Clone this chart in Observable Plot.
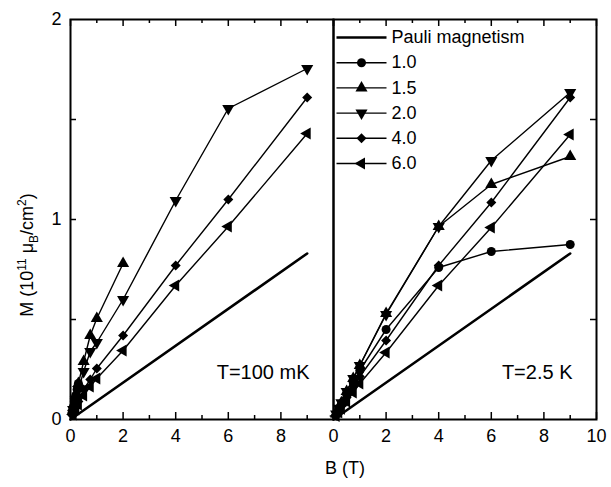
<!DOCTYPE html>
<html><head><meta charset="utf-8">
<script src="https://cdn.jsdelivr.net/npm/d3@7"></script>
<script src="https://cdn.jsdelivr.net/npm/@observablehq/plot@0.6"></script>
<style>body{margin:0;background:#fff;} #chart{width:611px;height:487px;}</style>
</head><body><div id="chart"></div>
<script>
// ---- data ----
const panels = ["T=100 mK", "T=2.5 K"];
const seriesNames = ["1.0", "1.5", "2.0", "4.0", "6.0"];
const pauliLabel = "Pauli magnetism";
const pauliB = [0, 9];
const pauliM = [0, 0.83];

// T = 100 mK
const lowB_10 = [0.05, 0.1, 0.15, 0.2, 0.25, 0.3];
const lowM_10 = [0.03, 0.06, 0.09, 0.12, 0.15, 0.18];
const lowB_15 = [0.1, 0.2, 0.3, 0.5, 0.75, 1, 2];
const lowM_15 = [0.06, 0.12, 0.18, 0.29, 0.42, 0.505, 0.78];
const lowB_20 = [0.1, 0.2, 0.3, 0.5, 0.75, 1, 2, 4, 6, 9];
const lowM_20 = [0.05, 0.1, 0.15, 0.24, 0.34, 0.385, 0.6, 1.095, 1.555, 1.755];
const lowB_40 = [0.1, 0.2, 0.3, 0.5, 0.75, 1, 2, 4, 6, 9];
const lowM_40 = [0.03, 0.06, 0.09, 0.15, 0.2, 0.255, 0.42, 0.77, 1.1, 1.61];
const lowB_60 = [0.1, 0.2, 0.3, 0.5, 0.75, 1, 2, 4, 6, 9];
const lowM_60 = [0.025, 0.05, 0.075, 0.12, 0.165, 0.205, 0.345, 0.67, 0.965, 1.43];

// T = 2.5 K
const hiB = [0.1, 0.2, 0.3, 0.5, 0.75, 1, 2, 4, 6, 9];
const hiM_10 = [0.025, 0.05, 0.075, 0.125, 0.185, 0.245, 0.45, 0.76, 0.84, 0.875];
const hiM_15 = [0.028, 0.056, 0.084, 0.14, 0.205, 0.27, 0.53, 0.965, 1.175, 1.315];
const hiM_20 = [0.028, 0.056, 0.084, 0.14, 0.205, 0.27, 0.525, 0.965, 1.295, 1.635];
const hiM_40 = [0.022, 0.044, 0.066, 0.11, 0.165, 0.215, 0.395, 0.77, 1.085, 1.61];
const hiM_60 = [0.018, 0.036, 0.054, 0.09, 0.135, 0.18, 0.335, 0.67, 0.96, 1.425];

// axis ticks
const xMajor = [0, 2, 4, 6, 8, 10];
const xMinor = [1, 3, 5, 7, 9];
const xLabelsLeft = [0, 2, 4, 6, 8];
const xLabelsRight = [0, 2, 4, 6, 8, 10];
const yTicks = [0.5, 1, 1.5];
const yLabels = [0, 1, 2];

// ---- build tables ----
const rows = [];
function add(panel, series, B, M) { B.forEach((b, i) => rows.push({panel, series, B: b, M: M[i]})); }
add(panels[0], "1.0", lowB_10, lowM_10);
add(panels[0], "1.5", lowB_15, lowM_15);
add(panels[0], "2.0", lowB_20, lowM_20);
add(panels[0], "4.0", lowB_40, lowM_40);
add(panels[0], "6.0", lowB_60, lowM_60);
add(panels[1], "1.0", hiB, hiM_10);
add(panels[1], "1.5", hiB, hiM_15);
add(panels[1], "2.0", hiB, hiM_20);
add(panels[1], "4.0", hiB, hiM_40);
add(panels[1], "6.0", hiB, hiM_60);
const pauliRows = [];
panels.forEach(p => pauliB.forEach((b, i) => pauliRows.push({panel: p, B: b, M: pauliM[i]})));

// ---- symbols ----
const downTriangle = {draw(ctx, size) {
  const y = Math.sqrt(size / (3 * Math.sqrt(3)));
  ctx.moveTo(0, 2 * y); ctx.lineTo(Math.sqrt(3) * y, -y); ctx.lineTo(-Math.sqrt(3) * y, -y); ctx.closePath();
}};
const leftTriangle = {draw(ctx, size) {
  const y = Math.sqrt(size / (3 * Math.sqrt(3)));
  ctx.moveTo(-2 * y, 0); ctx.lineTo(y, -Math.sqrt(3) * y); ctx.lineTo(y, Math.sqrt(3) * y); ctx.closePath();
}};
const hLine = {draw(ctx) { ctx.moveTo(-25, 0); ctx.lineTo(25, 0); }};

const W = 611, H = 487, mL = 70, mR = 15, mT = 19, mB = 68;
const facetW = (W - mL - mR) / 2, frameH = H - mT - mB;
const font = "Liberation Sans, Arial, Helvetica, sans-serif";

const legendMarks = [];
const legendItems = [pauliLabel, ...seriesNames];
legendItems.forEach((s, i) => {
  const dy = 18 + 25.2 * i;
  const fx = () => panels[1];
  legendMarks.push(Plot.dot([s], {fx, frameAnchor: "top-left", dx: 28, dy, symbol: () => hLine, stroke: "black", fill: "none", strokeWidth: i === 0 ? 2.5 : 1.4, r: 1}));
  if (i > 0) legendMarks.push(Plot.dot([s], {fx, frameAnchor: "top-left", dx: 28, dy, symbol: d => d, fill: "black", stroke: "none", r: 4.5}));
  legendMarks.push(Plot.text([s], {fx, frameAnchor: "top-left", dx: 58, dy, text: d => d, textAnchor: "start", lineAnchor: "middle", fontSize: 18, fill: "black"}));
});

const plot = Plot.plot({
  width: W, height: H,
  marginLeft: mL, marginRight: mR, marginTop: mT, marginBottom: mB,
  style: {fontFamily: font, fontSize: "18px", background: "white", color: "black"},
  fx: {domain: panels, padding: 0, axis: null},
  x: {domain: [0, 10], axis: null},
  y: {domain: [0, 2], axis: null},
  symbol: {domain: seriesNames, range: ["circle", "triangle", downTriangle, "diamond2", leftTriangle]},
  marks: [
    Plot.line(pauliRows, {x: "B", y: "M", fx: "panel", stroke: "black", strokeWidth: 2.6}),
    Plot.line(rows, {x: "B", y: "M", z: "series", fx: "panel", stroke: "black", strokeWidth: 1.4}),
    Plot.dot(rows, {x: "B", y: "M", fx: "panel", symbol: "series", fill: "black", stroke: "none", r: 4.5}),
    // ticks (inward)
    Plot.tickX(xMajor, {x: d => d, insetTop: frameH - 7, stroke: "black", strokeWidth: 1.5}),
    Plot.tickX(xMinor, {x: d => d, insetTop: frameH - 4, stroke: "black", strokeWidth: 1.5}),
    Plot.tickX(xMajor, {x: d => d, insetBottom: frameH - 7, stroke: "black", strokeWidth: 1.5}),
    Plot.tickX(xMinor, {x: d => d, insetBottom: frameH - 4, stroke: "black", strokeWidth: 1.5}),
    Plot.tickY(yTicks, {y: d => d, fx: () => panels[0], insetRight: facetW - 6, stroke: "black", strokeWidth: 1.5}),
    Plot.tickY(yTicks, {y: d => d, fx: () => panels[1], insetLeft: facetW - 6, stroke: "black", strokeWidth: 1.5}),
    Plot.frame({stroke: "black", strokeWidth: 2}),
    // tick labels
    Plot.text(xLabelsLeft, {x: d => d, fx: () => panels[0], frameAnchor: "bottom", dy: 10, lineAnchor: "top", text: d => String(d), fontSize: 18, fill: "black"}),
    Plot.text(xLabelsRight, {x: d => d, fx: () => panels[1], frameAnchor: "bottom", dy: 10, lineAnchor: "top", text: d => String(d), fontSize: 18, fill: "black"}),
    Plot.axisY({anchor: "left", ticks: yLabels, tickSize: 0, tickPadding: 9, tickFormat: d => String(d), fontSize: 18, label: null}),
    // panel annotations
    Plot.text(panels, {fx: d => d, text: d => d, frameAnchor: "bottom-right", dx: -24, dy: -41, textAnchor: "end", lineAnchor: "bottom", fontSize: 20, fill: "black"}),
    ...legendMarks
  ]
});
document.getElementById("chart").appendChild(plot);

// axis titles with sub/superscripts
const svg = d3.select(plot);
const yl = svg.append("text")
  .attr("transform", "translate(33,255) rotate(-90)")
  .attr("text-anchor", "middle").attr("font-size", 18).attr("fill", "black")
  .attr("font-family", font);
yl.append("tspan").text("M (10");
yl.append("tspan").attr("dy", -7).attr("font-size", 12).text("11");
yl.append("tspan").attr("dy", 7).text(" \u03bc");
yl.append("tspan").attr("dy", 5).attr("font-size", 12).text("B");
yl.append("tspan").attr("dy", -5).text("/cm");
yl.append("tspan").attr("dy", -7).attr("font-size", 12).text("2");
yl.append("tspan").attr("dy", 7).text(")");
svg.append("text").attr("x", 345).attr("y", 474).attr("text-anchor", "middle")
  .attr("font-size", 18).attr("fill", "black").attr("font-family", font).text("B (T)");
</script>
</body></html>
